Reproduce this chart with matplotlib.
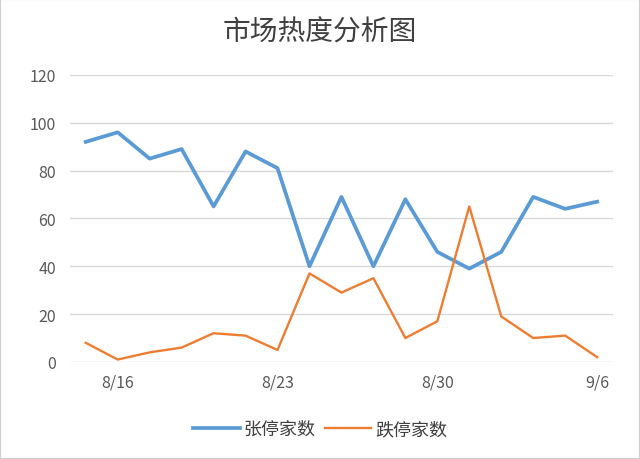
import matplotlib
matplotlib.use("Agg")
import matplotlib.pyplot as plt
from matplotlib.patches import Rectangle

plt.rcParams['font.family'] = ['Noto Sans CJK SC', 'DejaVu Sans']

dates = ['8/13', '8/16', '8/17', '8/18', '8/19', '8/20', '8/23', '8/24', '8/25',
         '8/26', '8/27', '8/30', '8/31', '9/1', '9/2', '9/3', '9/6']
limit_up = [92, 96, 85, 89, 65, 88, 81, 40, 69, 40, 68, 46, 39, 46, 69, 64, 67]
limit_down = [8, 1, 4, 6, 12, 11, 5, 37, 29, 35, 10, 17, 65, 19, 10, 11, 2]
tick_dates = ['8/16', '8/23', '8/30', '9/6']
title = '市场热度分析图'
series_names = ['张停家数', '跌停家数']

fig = plt.figure(figsize=(6.4, 4.6), dpi=100)
ax = fig.add_axes([0.109, 0.211, 0.849, 0.624])

x = list(range(len(dates)))
ax.plot(x, limit_up, color='#5B9BD5', lw=2.7, solid_joinstyle='round', label=series_names[0], zorder=3)
ax.plot(x, limit_down, color='#ED7D31', lw=1.7, solid_joinstyle='round', label=series_names[1], zorder=3)

ax.set_xlim(-0.5, len(dates) - 0.5)
ax.set_ylim(0, 120)
ax.set_yticks(range(0, 121, 20))
ax.set_xticks([dates.index(d) for d in tick_dates])
ax.set_xticklabels(tick_dates)
ax.yaxis.grid(True, color='#D9D9D9', lw=1)
ax.set_axisbelow(True)
for s in ax.spines.values():
    s.set_visible(False)
ax.tick_params(axis='both', length=0, labelsize=11.5, colors='#595959')
ax.tick_params(axis='y', pad=10)
ax.tick_params(axis='x', pad=8)

fig.text(0.5, 0.928, title, ha='center', va='center', fontsize=20, color='#404040')

fig.legend(loc='center', bbox_to_anchor=(0.5, 0.065), ncol=2, frameon=False,
           fontsize=13, handlelength=2.6, columnspacing=0.5, handletextpad=0.2,
           labelcolor='#404040')

fig.patches.append(Rectangle((0, 0), 1, 1, transform=fig.transFigure, fill=False,
                             edgecolor='#D0D0D0', lw=1.5))

fig.savefig('out.png', dpi=100)
